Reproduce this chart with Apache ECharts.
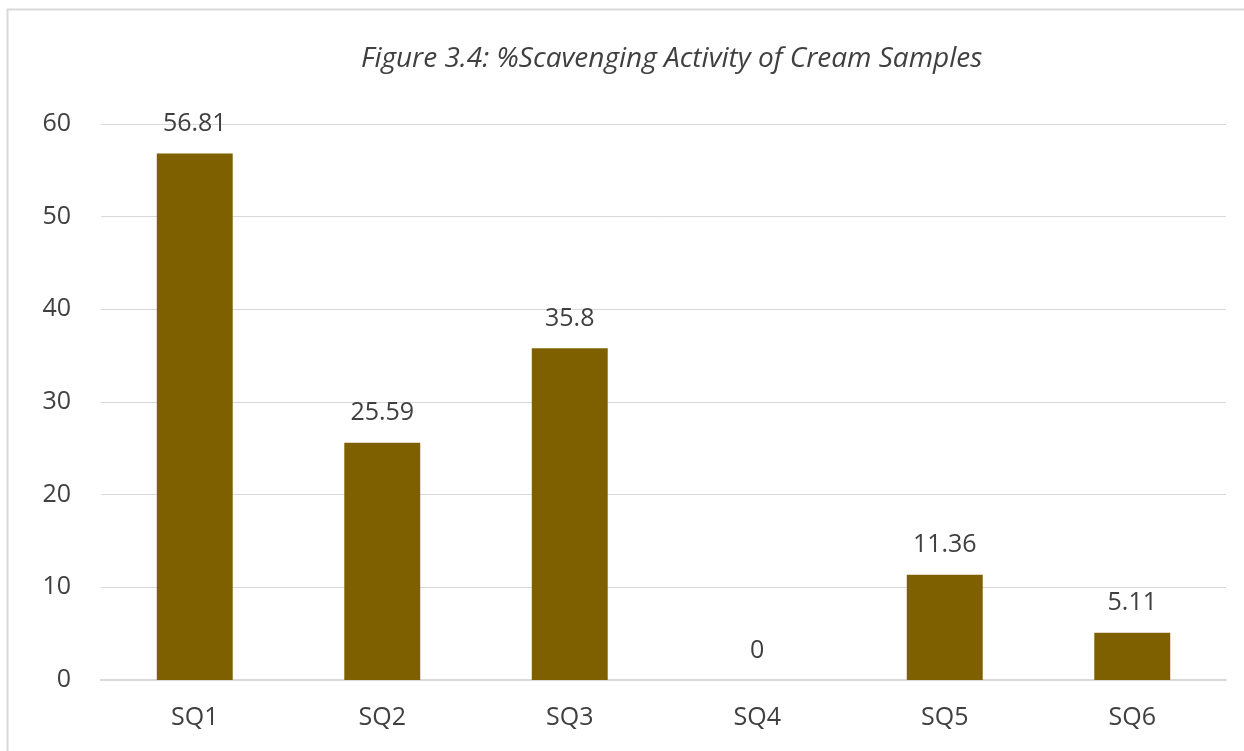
<!DOCTYPE html>
<html>
<head>
<meta charset="utf-8">
<script src="https://cdn.jsdelivr.net/npm/echarts@6/dist/echarts.min.js"></script>
<style>
  html, body { margin: 0; padding: 0; background: #fff; }
  #chart { width: 1244px; height: 751px; }
</style>
</head>
<body>
<div id="chart"></div>
<script>
// Cream sample scavenging activity (%)
const categories = ['SQ1', 'SQ2', 'SQ3', 'SQ4', 'SQ5', 'SQ6'];
const scavenging = [56.81, 25.59, 35.8, 0, 11.36, 5.11];
const yTicks = [0, 10, 20, 30, 40, 50, 60];

const font = '"Open Sans", "Noto Sans", sans-serif';
const chart = echarts.init(document.getElementById('chart'), null, { renderer: 'canvas' });

chart.setOption({
  backgroundColor: '#ffffff',
  animation: false,
  graphic: [{
    type: 'rect',
    shape: { x: 7.5, y: 9.5, width: 1260, height: 760 },
    style: { fill: 'none', stroke: '#d9d9d9', lineWidth: 2 },
    silent: true
  }],
  title: {
    text: 'Figure 3.4: %Scavenging Activity of Cream Samples',
    left: 356,
    top: 40,
    textStyle: { fontFamily: font, fontStyle: 'italic', fontWeight: 'normal', fontSize: 28, color: '#404040' }
  },
  grid: { left: 101, right: 18, top: 124, bottom: 71 },
  xAxis: {
    type: 'category',
    data: categories,
    axisLine: { lineStyle: { color: '#d9d9d9', width: 2 } },
    axisTick: { show: false },
    axisLabel: { fontFamily: font, fontSize: 25, color: '#404040', margin: 25 }
  },
  yAxis: {
    type: 'value',
    min: yTicks[0],
    max: yTicks[yTicks.length - 1],
    interval: 10,
    axisLine: { show: false },
    axisTick: { show: false },
    splitLine: { lineStyle: { color: '#d9d9d9', width: 1 } },
    axisLabel: { fontFamily: font, fontSize: 25, color: '#404040', margin: 30 }
  },
  series: [{
    type: 'bar',
    data: scavenging,
    barWidth: '40.5%',
    itemStyle: { color: '#7f6000' },
    label: {
      show: true,
      position: 'top',
      distance: 17,
      fontFamily: font,
      fontSize: 25,
      color: '#404040'
    }
  }]
});
</script>
</body>
</html>
